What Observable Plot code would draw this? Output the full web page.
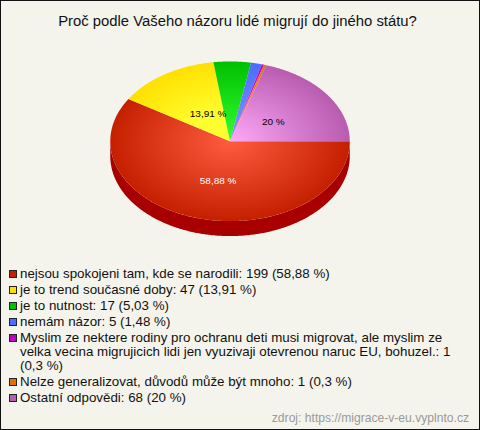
<!DOCTYPE html>
<html lang="cs">
<head>
<meta charset="utf-8">
<script src="https://cdn.jsdelivr.net/npm/d3@7"></script>
<script src="https://cdn.jsdelivr.net/npm/@observablehq/plot@0.6"></script>
<style>
html,body{margin:0;padding:0;background:#f5f4ec;}
#box{position:relative;box-sizing:border-box;width:480px;height:430px;background:#f5f4ec;border:1px solid #111;font-family:"Liberation Sans",Arial,sans-serif;overflow:hidden;}
#title{position:absolute;left:0;top:12px;width:473px;text-align:center;font-size:14.85px;line-height:17px;color:#111;white-space:nowrap;}
#plot{position:absolute;left:-1px;top:39px;}
#plot svg{display:block;background:transparent;}
#legend{position:absolute;left:7px;top:266px;width:460px;font-size:13.33px;line-height:14.3px;color:#111;}
.row{position:relative;padding-left:12px;margin-bottom:1.6px;width:440px;}
.sw{position:absolute;left:1px;top:3px;width:6px;height:6px;border:1px solid #222;}
#src{position:absolute;right:10px;top:410px;font-size:12.12px;line-height:14px;color:#999;}
</style>
</head>
<body>
<div id="box">
  <div id="title"></div>
  <div id="plot"></div>
  <div id="legend"></div>
  <div id="src"></div>
</div>
<script>
const titleText = "Proč podle Vašeho názoru lidé migrují do jiného státu?";
const sourceText = "zdroj: https://migrace-v-eu.vyplnto.cz";
const categories = [
  "nejsou spokojeni tam, kde se narodili",
  "je to trend současné doby",
  "je to nutnost",
  "nemám názor",
  "Myslim ze nektere rodiny pro ochranu deti musi migrovat, ale myslim ze velka vecina migrujicich lidi jen vyuzivaji otevrenou naruc EU, bohuzel.",
  "Nelze generalizovat, důvodů může být mnoho",
  "Ostatní odpovědi"
];
const counts = [199, 47, 17, 5, 1, 1, 68];
const percentLabels = ["58,88 %", "13,91 %", "5,03 %", "1,48 %", "0,3 %", "0,3 %", "20 %"];
const showLabel = [true, true, false, false, false, false, true];
const labelColors = ["#ffffff", "#000000", "#000000", "#000000", "#000000", "#000000", "#000000"];
const labelRadiusX = [0.362, 0.336, 0, 0, 0, 0, 0.448];
const labelRadiusY = [0.52, 0.417, 0, 0, 0, 0, 0.404];
const edgeColors = ["#c42000", "#ffe000", "#00c000", "#4a6cff", "#c000c0", "#e07000", "#b85cb0"];
const centerColors = ["#ff5c40", "#ffff30", "#33ff33", "#7a9aff", "#ff40ff", "#ffa040", "#ffa8f8"];
const centerStops = [0, 0.35, 0, 0, 0, 0, 0];
const legendColors = ["#c42000", "#ffe000", "#00c000", "#4a6cff", "#c000c0", "#e07000", "#b85cb0"];
const sideColor = "#a80000";
const pieDepth = 0.1875;

document.getElementById("title").textContent = titleText;
document.getElementById("src").textContent = sourceText;

const total = d3.sum(counts);
let acc = 0;
const slices = counts.map((c, i) => {
  const a0 = acc / total * 2 * Math.PI;
  acc += c;
  return {i, a0, a1: acc / total * 2 * Math.PI};
});
// x right, y up; angles run clockwise on screen from 3 o'clock
const pt = (a, r = 1, dy = 0) => ({x: r * Math.cos(a), y: -r * Math.sin(a) - dy});
const arc = (a0, a1, r = 1, dy = 0) => {
  const n = Math.max(2, Math.ceil((a1 - a0) / 0.01));
  return d3.range(n + 1).map(k => pt(a0 + (a1 - a0) * k / n, r, dy));
};
const wedge = s => [{x: 0, y: 0}, ...arc(s.a0, s.a1)];
const side = s => {
  const a0 = Math.max(s.a0, 0), a1 = Math.min(s.a1, Math.PI);
  if (a1 <= a0) return null;
  return [...arc(a0, a1), ...arc(a0, a1, 1, pieDepth).reverse()];
};

const defs = (index, scales) => {
  const svgNS = "http://www.w3.org/2000/svg";
  const d = document.createElementNS(svgNS, "defs");
  const sx = scales.x(1) - scales.x(0), sy = scales.y(-1) - scales.y(0);
  slices.forEach(s => {
    const g = document.createElementNS(svgNS, "radialGradient");
    g.setAttribute("id", "sl" + s.i);
    g.setAttribute("gradientUnits", "userSpaceOnUse");
    g.setAttribute("cx", 0); g.setAttribute("cy", 0); g.setAttribute("r", 1);
    g.setAttribute("gradientTransform", `translate(${scales.x(0)},${scales.y(0)}) scale(${sx},${sy})`);
    [[centerStops[s.i], centerColors[s.i]], [1, edgeColors[s.i]]].forEach(([o, c]) => {
      const st = document.createElementNS(svgNS, "stop");
      st.setAttribute("offset", o); st.setAttribute("stop-color", c);
      g.appendChild(st);
    });
    d.appendChild(g);
  });
  return d;
};

const labels = slices.filter(s => showLabel[s.i]).map(s => {
  const a = (s.a0 + s.a1) / 2;
  return {x: labelRadiusX[s.i] * Math.cos(a), y: -labelRadiusY[s.i] * Math.sin(a), text: percentLabels[s.i], color: labelColors[s.i]};
});

const chart = Plot.plot({
  width: 480, height: 215,
  margin: 0,
  x: {domain: [-1, 1], range: [110, 350], axis: null},
  y: {domain: [-1, 1], range: [181, 21], axis: null},
  marks: [
    defs,
    ...slices.map(side).filter(Boolean).map(p => Plot.line(p, {x: "x", y: "y", fill: sideColor, stroke: "none"})),
    ...slices.map(s => Plot.line(wedge(s), {x: "x", y: "y", fill: `url(#sl${s.i})`, stroke: "none"})),
    Plot.text(labels, {x: "x", y: "y", text: "text", fill: "color", fontSize: 10, fontFamily: '"Liberation Sans",Arial,sans-serif'})
  ]
});
document.getElementById("plot").appendChild(chart);

const legend = d3.select("#legend");
categories.forEach((c, i) => {
  const row = legend.append("div").attr("class", "row");
  row.append("span").attr("class", "sw").style("background", legendColors[i]);
  row.append("span").text(`${c}: ${counts[i]} (${percentLabels[i]})`);
});
</script>
</body>
</html>
